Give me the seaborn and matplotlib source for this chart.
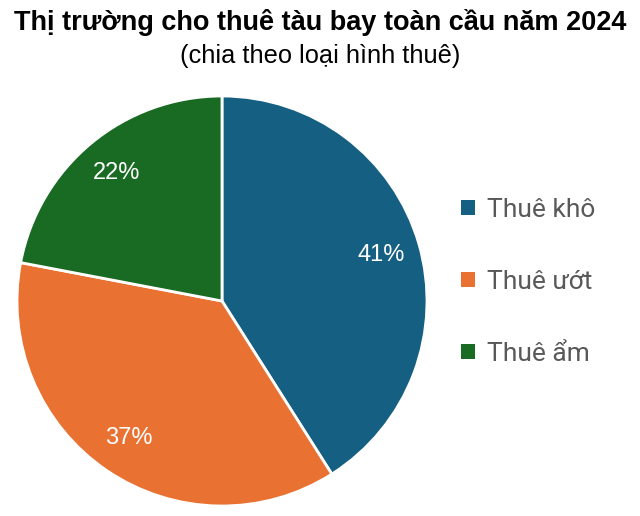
import matplotlib
matplotlib.use("Agg")
import matplotlib.pyplot as plt
import seaborn as sns

categories = ["Thuê khô", "Thuê ướt", "Thuê ẩm"]
shares = [41, 37, 22]
colors = ["#156082", "#E97132", "#196B24"]
title = "Thị trường cho thuê tàu bay toàn cầu năm 2024"
subtitle = "(chia theo loại hình thuê)"

sns.set_theme(style="white")
plt.rcParams["font.family"] = ["Liberation Sans", "DejaVu Sans"]

fig = plt.figure(figsize=(6.4, 5.16), dpi=100)
ax = fig.add_axes([17 / 640, 10 / 516, 410 / 640, 410 / 516])
wedges, texts, autotexts = ax.pie(
    shares, colors=colors, startangle=90, counterclock=False,
    autopct=lambda p: f"{p:.0f}%", pctdistance=0.81,
    wedgeprops=dict(edgecolor="white", linewidth=2),
    textprops=dict(color="white", fontsize=17, family=["Liberation Sans", "DejaVu Sans"]),
)
ax.set_xlim(-1, 1)
ax.set_ylim(-1, 1)
ax.set_aspect("equal")
ax.axis("off")

fig.text(0.5, 1 - 30 / 516, title, ha="center", va="baseline",
         fontsize=19.5, fontweight="bold", color="black")
fig.text(0.5, 1 - 63 / 516, subtitle, ha="center", va="baseline",
         fontsize=18.3, color="black")

leg = fig.legend(wedges, categories, loc="center left",
                 bbox_to_anchor=(443 / 640, 1 - 282 / 516),
                 frameon=False, handlelength=0.5, handleheight=0.5,
                 handletextpad=0.45, labelspacing=1.83, borderpad=0.2,
                 prop=dict(family=["Roboto", "DejaVu Sans"], size=19))
for t in leg.get_texts():
    t.set_color("#595959")
for h in leg.legend_handles:
    h.set_edgecolor("none")

fig.savefig("out.png", dpi=100)
